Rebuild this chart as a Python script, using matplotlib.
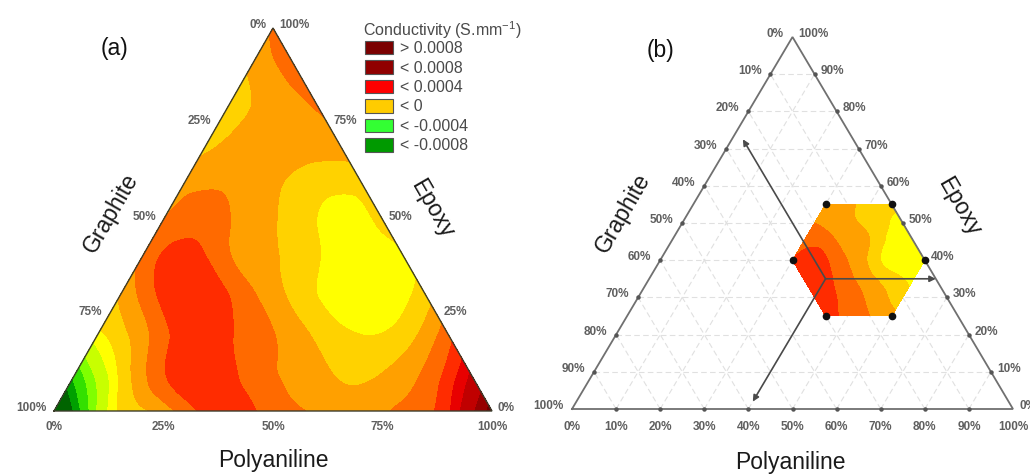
import numpy as np
import matplotlib
matplotlib.use("Agg")
import matplotlib.pyplot as plt
import matplotlib.tri as mtri
from matplotlib.patches import Patch

plt.rcParams['font.family'] = ['Liberation Sans', 'DejaVu Sans']

# ------------------------------------------------------------------ data
# Conductivity in units of 1e-4 S/mm.
# Panel (a): 10 % grid. Row r = epoxy fraction r*0.1, column c = polyaniline c*0.1
cond_a_rows = [
    [-22.0, -3.7, -0.2, 1.5, 2.7, 1.5, 0.85, 0.4, 1.3, 2.8, 9.0],
    [-7.5, -0.85, 1.9, 2.7, 1.6, 0.7, -0.1, 0.0, 1.2, 4.0],
    [-1.3, 0.6, 2.5, 2.1, 1.05, -0.2, -1.0, -0.5, 1.6],
    [0.1, 2.3, 2.7, 1.2, -0.3, -1.5, -1.7, -0.4],
    [1.2, 2.5, 1.1, 0.1, -0.9, -1.7, -1.2],
    [1.0, 1.5, 0.5, -0.4, -1.4, -0.7],
    [0.6, 0.8, 0.2, -0.5, -0.6],
    [-0.3, 0.4, 0.4, 0.6],
    [-0.5, 0.4, 1.1],
    [0.2, 1.5],
    [1.1],
]
grid_step_a = 0.1
epoxy_start_a = 0          # in grid steps
poly_start_a = [0] * 11    # first polyaniline index of each row

# Panel (b): hexagonal design region, 5 % grid.
# Rows: epoxy 0.25 ... 0.55 ; polyaniline starts listed in poly_start_b (grid steps of 0.05)
cond_b_rows = [
    [2.6, 1.6, 1.0, 0.3],
    [2.6, 2.0, 1.2, 0.3, -0.6],
    [2.6, 2.3, 1.3, 0.3, -0.6, -1.3],
    [2.0, 2.5, 1.5, 0.5, -1.0, -1.7, -1.4],
    [1.6, 1.5, 0.6, 0.0, -1.4, -1.5],
    [1.0, 0.5, 0.0, -0.7, -1.3],
    [0.5, 0.2, -0.4, -0.8],
]
grid_step_b = 0.05
epoxy_start_b = 5
poly_start_b = [9, 8, 7, 6, 6, 6, 6]

# hexagon corners (polyaniline, epoxy)
hex_poly = [0.30, 0.30, 0.45, 0.60, 0.60, 0.45]
hex_epoxy = [0.40, 0.55, 0.55, 0.40, 0.25, 0.25]

# arrows in (b): origin and three ends (polyaniline, epoxy)
arrow_origin = (0.40, 0.35)
arrow_ends_poly = [0.025, 0.65, 0.40]
arrow_ends_epoxy = [0.725, 0.35, 0.02]

# contour levels (1e-4 S/mm) and band colours
levels = [-30, -12, -9, -6, -4, -2, -1, 0, 1, 2, 3, 4, 6, 8, 30]
band_colors = ['#006400', '#00a000', '#33e000', '#80ff00', '#c8ff00',
               '#ffff00', '#ffd200', '#ffa000', '#ff6a00', '#ff2c00',
               '#e80000', '#c00000', '#960000', '#700000']

legend_title = 'Conductivity (S.mm$^{\\mathregular{-1}}$)'
legend_labels = ['> 0.0008', '< 0.0008', '< 0.0004', '< 0', '< -0.0004', '< -0.0008']
legend_colors = ['#7b0000', '#900000', '#ff0000', '#ffcc00', '#33ff33', '#009a00']

ticks_a = [0, 25, 50, 75, 100]
ticks_b = [0, 10, 20, 30, 40, 50, 60, 70, 80, 90, 100]

# ------------------------------------------------------------------ helpers
SQ = np.sqrt(3) / 2


def tern(P, E):
    P = np.asarray(P, float)
    E = np.asarray(E, float)
    return P + E / 2, E * SQ


def lattice(rows, e_start, p_starts, step):
    index = {}
    vals = []
    for r, row in enumerate(rows):
        for c, v in enumerate(row):
            index[(p_starts[r] + c, e_start + r)] = len(vals)
            vals.append(v)
    keys = sorted(index, key=lambda k: index[k])
    P = np.array([k[0] for k in keys]) * step
    E = np.array([k[1] for k in keys]) * step
    ps = [k[0] for k in keys]
    es = [k[1] for k in keys]
    tris = []
    for p in range(min(ps) - 1, max(ps) + 1):
        for e in range(min(es) - 1, max(es) + 1):
            up = [index.get((p, e)), index.get((p + 1, e)), index.get((p, e + 1))]
            dn = [index.get((p + 1, e)), index.get((p + 1, e + 1)), index.get((p, e + 1))]
            if None not in up:
                tris.append(up)
            if None not in dn:
                tris.append(dn)
    x, y = tern(P, E)
    return mtri.Triangulation(x, y, np.array(tris)), np.array(vals, float)


def draw_field(ax, rows, e_start, p_starts, step):
    tri, z = lattice(rows, e_start, p_starts, step)
    refiner = mtri.UniformTriRefiner(tri)
    tri_r, z_r = refiner.refine_field(z, subdiv=4)
    ax.tricontourf(tri_r, z_r, levels=levels, colors=band_colors, zorder=1)


PX = 0.72  # points per pixel at 100 dpi


def tick_labels(ax, ticks, dx_l, dx_r, dy_b, size):
    kw = dict(textcoords='offset points', fontsize=size, fontweight='bold',
              color='#5f5f5f', annotation_clip=False)
    for t in ticks:
        f = t / 100
        s = f"{t}%"
        x, y = tern(0, 1 - f)          # Graphite: 100% at bottom-left
        ax.annotate(s, (x, y), xytext=(-dx_l * PX, 3 * PX), ha='right', va='center', **kw)
        x, y = tern(1 - f, f)          # Epoxy: 100% at top
        ax.annotate(s, (x, y), xytext=(dx_r * PX, 3 * PX), ha='left', va='center', **kw)
        x, y = tern(f, 0)              # Polyaniline: bottom
        ax.annotate(s, (x, y), xytext=(0, -dy_b * PX), ha='center', va='center', **kw)


def titles(ax, off_g, off_e, off_p):
    kw = dict(textcoords='offset points', fontsize=16.5, color='#1a1a1a',
              ha='center', va='center', rotation_mode='anchor', annotation_clip=False)
    ax.annotate('Graphite', tern(0, 0.5), xytext=(off_g[0] * PX, off_g[1] * PX), rotation=60, **kw)
    ax.annotate('Epoxy', tern(0.5, 0.5), xytext=(off_e[0] * PX, off_e[1] * PX), rotation=-60, **kw)
    ax.annotate('Polyaniline', tern(0.5, 0), xytext=(off_p[0] * PX, off_p[1] * PX), **kw)


def outline(ax, color, lw):
    x, y = tern([0, 1, 0, 0], [0, 0, 1, 0])
    ax.plot(x, y, color=color, lw=lw, zorder=5, solid_joinstyle='miter')


# ------------------------------------------------------------------ figure
W, H = 1030, 474
fig = plt.figure(figsize=(W / 100, H / 100), dpi=100)

# panel (a)
axA = fig.add_axes([0, 0, 515 / W, 1])
axA.set_xlim(-54 / 438, (515 - 54) / 438)
axA.set_ylim(-(H - 411) * SQ / 383, 411 * SQ / 383)
axA.axis('off')
draw_field(axA, cond_a_rows, epoxy_start_a, poly_start_a, grid_step_a)
outline(axA, '#3c3c2c', 1.0)
tick_labels(axA, ticks_a, 7, 6, 16, 8.5)
titles(axA, (-53, 6), (50, 11), (0, -49))

# panel (b)
axB = fig.add_axes([515 / W, 0, 515 / W, 1])
axB.set_xlim(-(572 - 515) / 441, (W - 572) / 441)
axB.set_ylim(-(H - 409) * SQ / 372, 409 * SQ / 372)
axB.axis('off')

grid_kw = dict(color='#e0e0e0', lw=0.8, ls=(0, (5, 3)), zorder=0.5)
for t in ticks_b[1:-1]:
    v = t / 100
    axB.plot(*tern([0, 1 - v], [v, v]), **grid_kw)
    axB.plot(*tern([v, v], [0, 1 - v]), **grid_kw)
    axB.plot(*tern([1 - v, 0], [0, 1 - v]), **grid_kw)

draw_field(axB, cond_b_rows, epoxy_start_b, poly_start_b, grid_step_b)
outline(axB, '#707070', 1.3)

# small tick dots on the three edges
tf = np.array(ticks_b[1:-1]) / 100
for P, E in [(np.zeros_like(tf), tf), (1 - tf, tf), (tf, np.zeros_like(tf))]:
    axB.plot(*tern(P, E), ls='none', marker='o', ms=2.2, color='#555555', zorder=6)

# arrows
ox, oy = tern(*arrow_origin)
for pe, ee in zip(arrow_ends_poly, arrow_ends_epoxy):
    axB.annotate('', xy=tern(pe, ee), xytext=(ox, oy),
                 arrowprops=dict(arrowstyle='-|>', color='#4a4a4a', lw=1.2,
                                 mutation_scale=9, shrinkA=0, shrinkB=0), zorder=7)

# hexagon corner dots
axB.plot(*tern(hex_poly, hex_epoxy), ls='none', marker='o', ms=4.5, color='#111111', zorder=8)

tick_labels(axB, ticks_b, 9, 6, 18, 8.5)
titles(axB, (-59, 10), (56, 16), (-2, -53))

# panel letters
fig.text(114 / W, 1 - 48 / H, '(a)', fontsize=16.5, ha='center', va='center', color='#111111')
fig.text(660 / W, 1 - 50 / H, '(b)', fontsize=16.5, ha='center', va='center', color='#111111')

# legend (title drawn separately for tight control of its spacing)
fig.text(363 / W, 1 - 30 / H, legend_title, fontsize=11.5, ha='left', va='center',
         color='#4a4a4a')
handles = [Patch(facecolor=c, edgecolor='#555555', linewidth=0.8) for c in legend_colors]
leg = fig.legend(handles, legend_labels, loc='upper left',
                 bbox_to_anchor=(365 / W, 1 - 41 / H), frameon=False,
                 fontsize=11.5, handlelength=1.75, handleheight=0.9, labelspacing=0.27,
                 handletextpad=0.45, borderpad=0, borderaxespad=0)
for t in leg.get_texts():
    t.set_color('#4a4a4a')

fig.savefig('out.png', dpi=100)
